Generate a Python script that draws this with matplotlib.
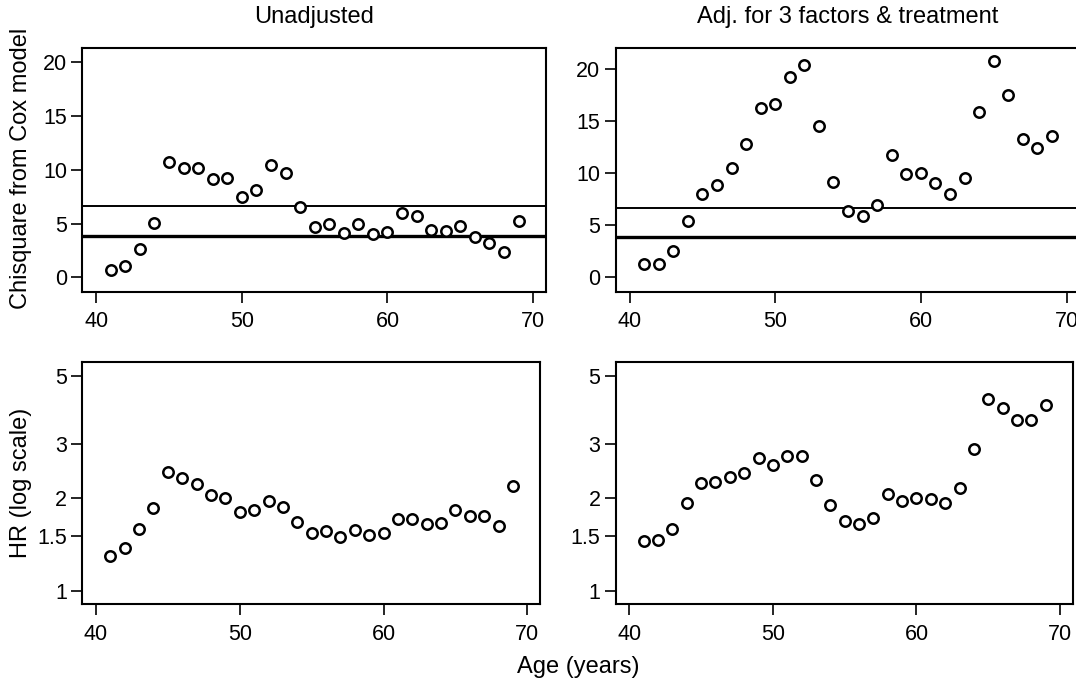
import numpy as np
import matplotlib
matplotlib.use("Agg")
import matplotlib.pyplot as plt

plt.rcParams['font.family'] = ['Liberation Sans', 'DejaVu Sans']

# ages (years)
age = np.arange(41, 70)

# chi-square from Cox model
chi_unadj = [0.68, 1.02, 2.64, 5.09, 10.73, 10.2, 10.17, 9.18, 9.27, 7.47,
             8.12, 10.42, 9.67, 6.57, 4.65, 4.99, 4.09, 4.93, 4.0, 4.25,
             5.95, 5.67, 4.4, 4.28, 4.81, 3.78, 3.22, 2.36, 5.21]
chi_adj = [1.25, 1.31, 2.5, 5.38, 7.97, 8.86, 10.5, 12.83, 16.29, 16.64,
           19.26, 20.42, 14.53, 9.12, 6.34, 5.86, 6.91, 11.71, 9.92, 9.98,
           9.09, 8.03, 9.54, 15.84, 20.74, 17.47, 13.25, 12.45, 13.57]

# hazard ratios
hr_unadj = [1.296, 1.376, 1.586, 1.852, 2.425, 2.324, 2.217, 2.052, 2.006, 1.802,
            1.829, 1.952, 1.866, 1.668, 1.539, 1.559, 1.495, 1.575, 1.513, 1.544,
            1.71, 1.71, 1.652, 1.66, 1.825, 1.749, 1.749, 1.623, 2.195]
hr_adj = [1.45, 1.457, 1.586, 1.932, 2.239, 2.256, 2.348, 2.419, 2.706, 2.568,
          2.747, 2.733, 2.284, 1.894, 1.689, 1.647, 1.727, 2.062, 1.961, 2.006,
          1.986, 1.932, 2.157, 2.894, 4.188, 3.925, 3.588, 3.579, 4.014]

# critical values of chi2(1)
crit_05 = 3.84
crit_01 = 6.63

titles = ["Unadjusted", "Adj. for 3 factors & treatment"]
hr_ticks = [1, 1.5, 2, 3, 5]

W, H = 1076, 679
fig = plt.figure(figsize=(W / 100, H / 100), dpi=100)


def box(left, top, right, bottom):
    return [left / W, (H - bottom) / H, (right - left) / W, (bottom - top) / H]


axes_top = [fig.add_axes(box(82.3, 48.3, 546, 291.7)),
            fig.add_axes(box(615.7, 48.3, 1079.4, 291.7))]
axes_bot = [fig.add_axes(box(82.3, 361.7, 540, 604.3)),
            fig.add_axes(box(615.7, 361.7, 1072.7, 604.3))]

mk = dict(linestyle='none', marker='o', markersize=7.5, markerfacecolor='white',
          markeredgecolor='black', markeredgewidth=1.8)


def style(ax):
    for s in ax.spines.values():
        s.set_linewidth(1.5)
    ax.tick_params(axis='both', direction='out', length=8, width=1.2,
                   labelsize=15.5, colors='black')
    ax.tick_params(axis='x', pad=6)
    ax.tick_params(axis='y', pad=3)
    ax.set_xticks([40, 50, 60, 70])
    ax.set_xlim(39.05, 70.88)


ylims_top = [(-1.34, 21.3), (-1.38, 22.0)]
for ax, chi, t, yl in zip(axes_top, [chi_unadj, chi_adj], titles, ylims_top):
    ax.axhline(crit_01, color='black', lw=1.4)
    ax.axhline(crit_05, color='black', lw=2.4)
    ax.plot(age, chi, **mk)
    style(ax)
    ax.set_ylim(*yl)
    ax.set_yticks([0, 5, 10, 15, 20])
    ax.set_title(t, fontsize=17, pad=18)

for ax, hr in zip(axes_bot, [hr_unadj, hr_adj]):
    ax.plot(age, hr, **mk)
    ax.set_yscale('log')
    style(ax)
    ax.set_ylim(0.903, 5.55)
    ax.set_yticks(hr_ticks)
    ax.set_yticklabels([str(v) for v in hr_ticks])
    ax.yaxis.set_minor_locator(matplotlib.ticker.NullLocator())

fig.text(21 / W, 1 - 168 / H, "Chisquare from Cox model", rotation=90,
         ha='center', va='center', fontsize=17)
fig.text(21 / W, 1 - 483 / H, "HR (log scale)", rotation=90,
         ha='center', va='center', fontsize=17)
fig.text(578 / W, 1 - 667 / H, "Age (years)", ha='center', va='center',
         fontsize=17)

fig.savefig("out.png", dpi=100)
